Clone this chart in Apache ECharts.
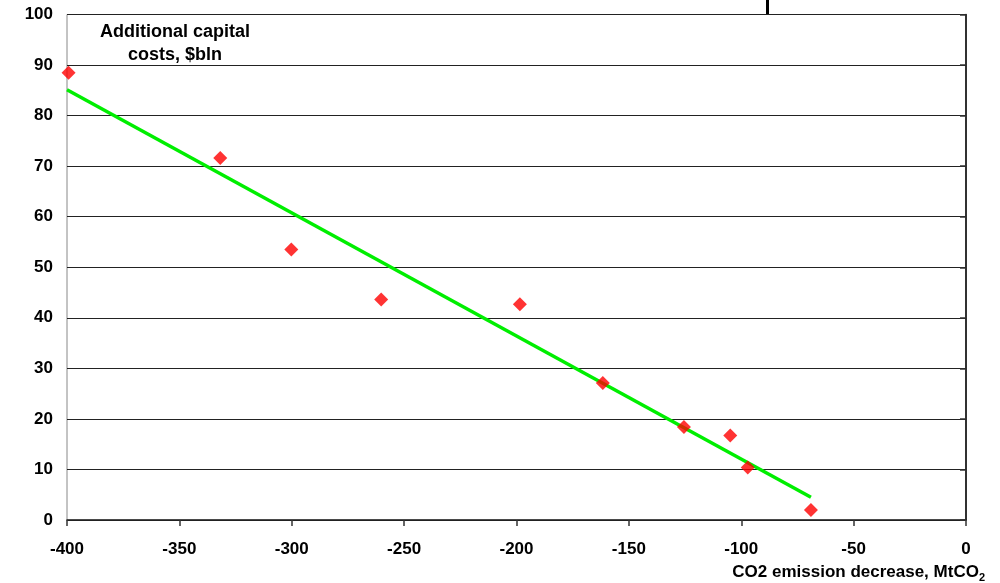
<!DOCTYPE html>
<html>
<head>
<meta charset="utf-8">
<script src="https://cdn.jsdelivr.net/npm/echarts@6/dist/echarts.min.js"></script>
<style>
  html, body { margin: 0; padding: 0; background: #fff; }
  #main { width: 1000px; height: 583px; }
</style>
</head>
<body>
<div id="main"></div>
<script>
// emission decrease (MtCO2) vs additional capital costs ($bln)
var emissionDecrease = [-399.3, -331.8, -300.2, -260.2, -198.5, -161.6, -125.5, -104.9, -97.1, -69.0];
var capitalCosts = [88.5, 71.6, 53.5, 43.6, 42.7, 27.1, 18.4, 16.7, 10.4, 2.0];
// trend line end points
var trendX = [-400, -69];
var trendY = [85.1, 4.5];

var points = emissionDecrease.map(function (x, i) { return [x, capitalCosts[i]]; });
var trend = trendX.map(function (x, i) { return [x, trendY[i]]; });

var myChart = echarts.init(document.getElementById('main'));
var font = 'Arial, "Liberation Sans", sans-serif';

var option = {
  animation: false,
  backgroundColor: '#fff',
  title: {
    text: 'Additional capital\ncosts, $bln',
    left: 170,
    top: 16,
    textAlign: 'center',
    textStyle: { fontFamily: font, fontWeight: 'bold', fontSize: 18, lineHeight: 23, color: '#000' }
  },
  grid: {
    left: 67, right: 34, top: 14.5, bottom: 62,
    show: true, borderColor: '#888', borderWidth: 1
  },
  xAxis: {
    type: 'value',
    min: -400, max: 0, interval: 50,
    name: '{a|CO2 emission decrease, MtCO}{s|2}',
    nameLocation: 'end',
    nameGap: 0,
    nameTextStyle: {
      align: 'right', verticalAlign: 'top', padding: [42, -19, 0, 0],
      rich: {
        a: { fontFamily: font, fontWeight: 'bold', fontSize: 17, color: '#000' },
        s: { fontFamily: font, fontWeight: 'bold', fontSize: 11, color: '#000', padding: [10, 0, 0, 0] }
      }
    },
    axisLine: { show: true, lineStyle: { color: '#222', width: 1.5 } },
    axisTick: { show: true, length: 6, lineStyle: { color: '#333', width: 1.5 } },
    axisLabel: { fontFamily: font, fontWeight: 'bold', fontSize: 17, color: '#000', margin: 21 },
    splitLine: { show: false }
  },
  yAxis: {
    type: 'value',
    min: 0, max: 100, interval: 10,
    axisLine: { show: true, lineStyle: { color: '#000', width: 1.5 } },
    axisTick: { show: true, length: 6, lineStyle: { color: '#333', width: 1.5 } },
    axisLabel: { fontFamily: font, fontWeight: 'bold', fontSize: 17, color: '#000', margin: 14 },
    splitLine: { show: true, lineStyle: { color: '#222', width: 1.2 } }
  },
  graphic: [
    { type: 'rect', shape: { x: 766, y: 0, width: 3, height: 14 }, style: { fill: '#000' } }
  ],
  series: [
    {
      type: 'line',
      data: trend,
      symbol: 'none',
      lineStyle: { color: '#00ee00', width: 3.5 },
      z: 2
    },
    {
      type: 'scatter',
      data: points,
      symbol: 'diamond',
      symbolSize: 14,
      itemStyle: { color: '#ff0000' },
      z: 3
    }
  ]
};

myChart.setOption(option);
</script>
</body>
</html>
